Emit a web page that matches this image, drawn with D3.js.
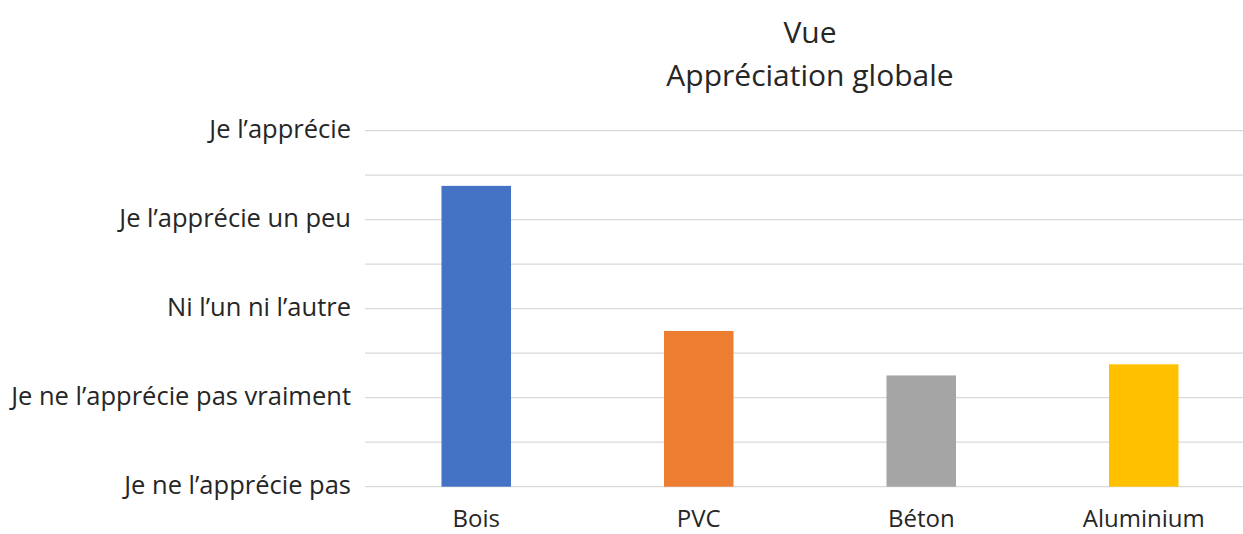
<!DOCTYPE html>
<html>
<head>
<meta charset="utf-8">
<script src="https://cdn.jsdelivr.net/npm/d3@7"></script>
<style>
  html, body { margin: 0; padding: 0; background: #fff; }
  svg { display: block; font-family: "Open Sans", "DejaVu Sans", sans-serif; }
</style>
</head>
<body>
<svg id="chart" width="1243" height="534"></svg>
<script>
const categories = ["Bois", "PVC", "Béton", "Aluminium"];
const values = [4.38, 2.75, 2.25, 2.375];
const colors = ["#4472C4", "#ED7D31", "#A5A5A5", "#FFC000"];
const tickValues = [1, 2, 3, 4, 5];
const tickLabels = ["Je ne l’apprécie pas", "Je ne l’apprécie pas vraiment", "Ni l’un ni l’autre", "Je l’apprécie un peu", "Je l’apprécie"];
const gridValues = [1, 1.5, 2, 2.5, 3, 3.5, 4, 4.5, 5];
const titleLines = ["Vue", "Appréciation globale"];

const svg = d3.select("#chart");
const plotLeft = 365, plotRight = 1255, plotTop = 130.7, plotBottom = 486.7;

const x = d3.scaleBand().domain(categories).range([plotLeft, plotRight])
  .paddingInner(0.6876).paddingOuter(0.3438);
const y = d3.scaleLinear().domain([1, 5]).range([plotBottom, plotTop]);

// gridlines
svg.append("g").selectAll("line").data(gridValues).join("line")
  .attr("x1", plotLeft).attr("x2", 1243)
  .attr("y1", d => y(d)).attr("y2", d => y(d))
  .attr("stroke", "#d9d9d9").attr("stroke-width", 1.3);

// bars
svg.append("g").selectAll("rect").data(categories).join("rect")
  .attr("x", d => x(d))
  .attr("width", x.bandwidth())
  .attr("y", (d, i) => y(values[i]))
  .attr("height", (d, i) => y(1) - y(values[i]))
  .attr("fill", (d, i) => colors[i]);

// y axis labels
const yAxis = d3.axisLeft(y).tickValues(tickValues)
  .tickFormat((d, i) => tickLabels[i]).tickSize(0).tickPadding(14);
const ya = svg.append("g").attr("transform", `translate(${plotLeft},0)`).call(yAxis);
ya.select(".domain").remove();
ya.selectAll("text").attr("font-size", 25.5).attr("fill", "#262626")
  .attr("dy", "0.26em")
  .style("font-family", "'Open Sans', sans-serif");

// x axis labels
const xAxis = d3.axisBottom(x).tickSize(0);
const xa = svg.append("g").attr("transform", `translate(0,${plotBottom})`).call(xAxis);
xa.select(".domain").remove();
xa.selectAll("text").attr("font-size", 24).attr("fill", "#262626")
  .attr("dy", null).attr("y", 527.5 - plotBottom)
  .style("font-family", "'Open Sans', sans-serif");

// title
const cx = (plotLeft + plotRight) / 2;
svg.append("g").selectAll("text").data(titleLines).join("text")
  .attr("x", cx).attr("y", (d, i) => 43 + i * 43)
  .attr("text-anchor", "middle")
  .attr("font-size", 30).attr("fill", "#262626")
  .text(d => d);
</script>
</body>
</html>
